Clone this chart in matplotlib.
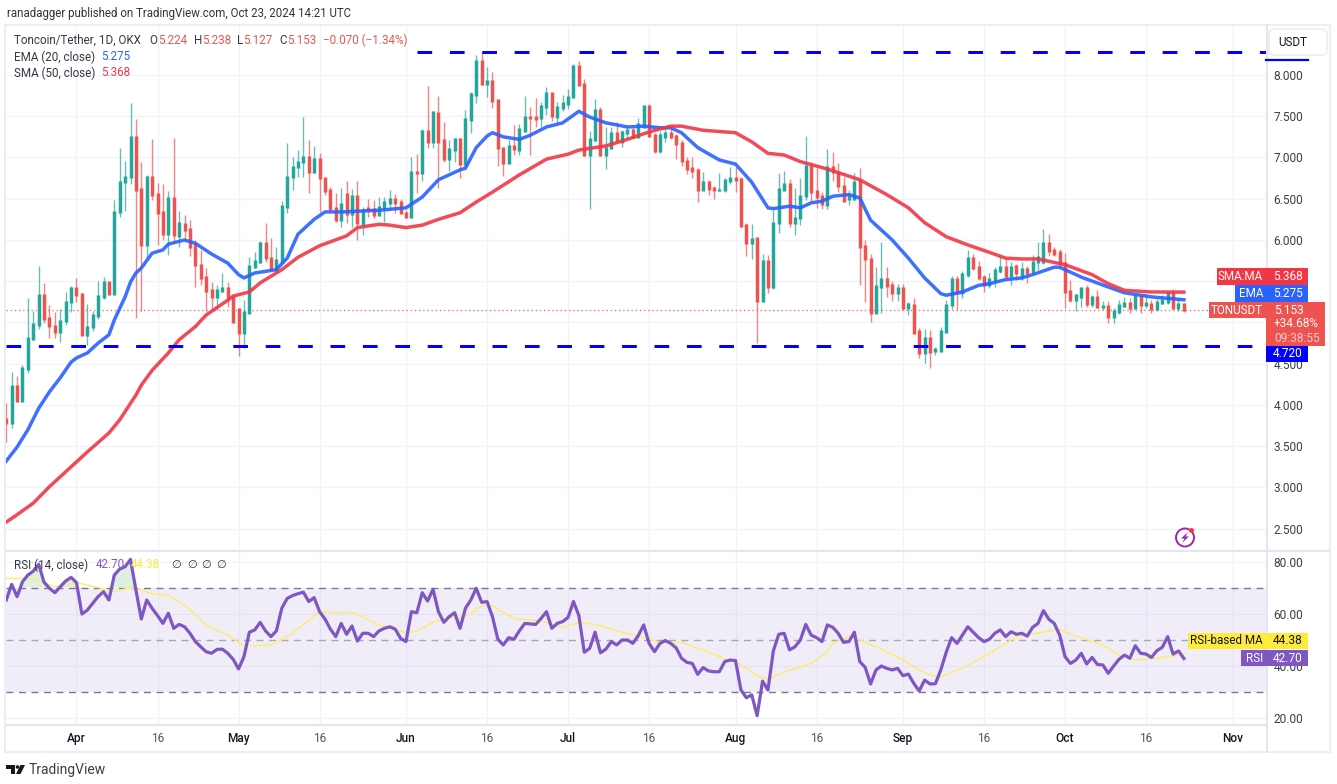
import matplotlib
matplotlib.use("Agg")
import matplotlib.pyplot as plt
from matplotlib.patches import Rectangle, FancyBboxPatch, Ellipse, Polygon
from matplotlib.lines import Line2D
import numpy as np

# days are counted from Apr 1 2024, first candle Mar 19, last Oct 23
days = np.arange(-13, 206)

opens = [3.83,3.78,4.23,4.05,4.44,4.80,4.97,5.33,5.05,4.96,
         4.88,5.02,5.25,5.42,5.34,4.85,4.95,5.08,5.31,5.49,
         5.34,6.34,6.70,6.76,7.25,6.62,5.94,6.76,6.56,6.34,
         6.07,6.51,6.05,6.19,6.13,5.94,5.70,5.55,5.39,5.31,
         5.38,5.42,5.31,5.16,4.87,5.12,5.67,5.73,5.96,5.78,
         5.63,5.73,6.40,6.76,6.89,6.95,7.01,6.82,6.98,6.75,
         6.61,6.39,6.24,6.56,6.31,6.53,6.19,6.39,6.38,6.30,
         6.39,6.45,6.50,6.46,6.33,6.28,6.83,6.81,7.32,7.19,
         7.54,7.21,6.98,7.09,7.22,6.92,7.45,7.76,8.17,7.89,
         7.93,7.70,7.12,6.93,7.14,7.09,7.32,7.49,7.49,7.48,
         7.61,7.78,7.49,7.60,7.65,7.73,8.11,7.89,7.03,7.21,
         7.58,7.03,7.12,7.30,7.19,7.30,7.33,7.25,7.37,7.62,
         7.27,7.08,7.25,7.30,7.26,7.18,6.96,6.87,6.85,6.61,
         6.70,6.63,6.60,6.60,6.72,6.75,6.74,6.18,5.96,6.02,
         5.26,5.75,5.43,6.21,6.61,6.68,6.21,6.27,6.53,6.90,
         6.59,6.53,6.42,6.88,6.83,6.66,6.50,6.50,6.72,5.93,
         5.77,5.12,5.43,5.53,5.45,5.36,5.42,5.18,5.21,4.90,
         4.63,4.81,4.65,4.66,4.88,5.21,5.53,5.36,5.58,5.78,
         5.67,5.55,5.45,5.52,5.62,5.67,5.56,5.68,5.56,5.65,
         5.61,5.73,5.73,5.96,5.88,5.85,5.72,5.38,5.27,5.31,
         5.42,5.22,5.31,5.19,5.20,5.07,5.13,5.20,5.24,5.18,
         5.32,5.21,5.23,5.16,5.24,5.25,5.36,5.17,5.224]
closes = [3.78,4.23,4.05,4.45,4.81,4.98,5.33,5.04,4.96,4.88,
          5.02,5.25,5.42,5.33,4.85,4.95,5.09,5.32,5.49,5.34,
          6.34,6.70,6.76,7.25,6.61,5.94,6.76,6.55,6.33,6.07,
          6.51,6.06,6.21,6.12,5.91,5.70,5.54,5.38,5.31,5.39,
          5.42,5.30,5.00,4.87,5.13,5.68,5.75,5.96,5.78,5.65,
          5.76,6.41,6.76,6.89,6.95,7.01,6.82,6.98,6.75,6.59,
          6.38,6.24,6.44,6.31,6.53,6.21,6.36,6.36,6.30,6.40,
          6.46,6.50,6.45,6.33,6.28,6.82,6.81,7.32,7.19,7.55,
          7.19,6.98,7.10,7.22,6.92,7.47,7.77,8.17,7.89,7.93,
          7.68,7.12,6.93,7.14,7.10,7.35,7.49,7.48,7.47,7.62,
          7.78,7.50,7.61,7.66,7.73,8.11,7.88,7.03,7.22,7.58,
          7.03,7.12,7.30,7.21,7.31,7.33,7.25,7.41,7.62,7.26,
          7.08,7.27,7.30,7.25,7.16,6.96,6.86,6.84,6.61,6.70,
          6.62,6.60,6.61,6.73,6.75,6.73,6.17,5.96,6.01,5.26,
          5.75,5.43,6.21,6.62,6.68,6.21,6.27,6.53,6.90,6.58,
          6.52,6.44,6.88,6.83,6.65,6.47,6.54,6.70,5.92,5.77,
          5.12,5.44,5.53,5.44,5.36,5.42,5.18,5.22,4.87,4.63,
          4.81,4.64,4.68,4.90,5.21,5.53,5.36,5.59,5.78,5.66,
          5.54,5.45,5.53,5.64,5.67,5.56,5.67,5.60,5.65,5.60,
          5.73,5.79,5.96,5.87,5.83,5.72,5.37,5.27,5.33,5.42,
          5.22,5.31,5.19,5.20,5.07,5.14,5.21,5.24,5.18,5.32,
          5.21,5.24,5.16,5.25,5.27,5.36,5.18,5.23,5.153]
highs = [4.02,4.40,4.35,4.48,5.30,5.14,5.68,5.48,5.21,5.13,
         5.16,5.37,5.44,5.54,5.36,5.22,5.14,5.50,5.55,5.49,
         6.48,7.12,6.96,7.66,7.47,6.95,6.79,7.22,6.69,6.68,
         6.59,7.24,6.35,6.30,6.24,6.00,5.88,5.66,5.49,5.45,
         5.60,5.49,5.33,5.17,5.27,5.79,5.85,5.99,6.21,6.02,
         5.92,6.47,7.18,7.00,7.09,7.49,7.21,7.14,7.05,6.75,
         6.64,6.57,6.63,6.72,6.62,6.72,6.40,6.50,6.48,6.52,
         6.52,6.61,6.56,6.50,6.36,7.01,7.04,7.35,7.87,7.56,
         7.75,7.43,7.21,7.24,7.24,7.58,7.79,8.24,8.28,8.10,
         8.04,7.71,7.13,7.21,7.39,7.41,7.75,7.61,7.72,7.67,
         7.85,7.78,7.67,7.76,7.83,8.13,8.17,7.95,7.32,7.71,
         7.61,7.37,7.37,7.43,7.33,7.38,7.38,7.48,7.64,7.65,
         7.30,7.32,7.36,7.36,7.28,7.21,7.00,7.01,6.87,6.82,
         6.73,6.65,6.81,6.75,6.89,6.88,6.76,6.20,6.19,6.04,
         5.83,5.82,6.36,6.81,6.84,6.74,6.63,6.75,7.26,6.95,
         6.87,6.58,7.10,7.07,6.93,6.76,6.60,6.81,6.87,6.00,
         5.83,5.67,5.98,5.67,5.50,5.47,5.47,5.25,5.30,4.93,
         4.92,4.91,4.70,4.95,5.27,5.56,5.56,5.62,5.88,5.83,
         5.75,5.57,5.60,5.67,5.81,5.78,5.73,5.71,5.73,5.68,
         5.82,5.98,6.13,6.07,5.91,5.89,5.84,5.52,5.35,5.43,
         5.45,5.33,5.39,5.26,5.26,5.17,5.27,5.31,5.30,5.35,
         5.34,5.35,5.27,5.28,5.33,5.38,5.41,5.30,5.238]
lows = [3.55,3.72,4.04,4.04,4.39,4.79,4.92,4.99,4.81,4.81,
        4.76,4.97,5.13,5.25,4.85,4.73,4.90,5.04,5.28,5.33,
        5.33,6.28,6.35,6.68,5.05,5.14,5.78,6.48,5.94,6.00,
        5.82,5.96,5.92,5.98,5.80,5.43,5.45,5.14,5.15,5.15,
        5.37,5.19,4.99,4.59,4.69,5.11,5.66,5.72,5.73,5.62,
        5.60,5.72,6.33,6.61,6.76,6.76,6.57,6.81,6.34,6.55,
        6.35,6.22,6.16,6.21,6.16,6.00,6.06,6.28,6.27,6.29,
        6.22,6.36,6.33,6.32,6.27,6.27,6.57,6.72,7.12,7.12,
        6.63,6.95,6.84,6.95,6.75,6.87,7.30,7.66,7.88,7.73,
        7.60,6.90,6.78,6.92,7.03,7.03,7.31,7.03,7.37,7.37,
        7.52,7.44,7.42,7.56,7.59,7.72,7.88,7.02,6.38,7.20,
        7.02,6.86,7.10,7.19,7.13,7.21,7.24,7.24,7.36,7.25,
        7.06,7.06,7.19,7.22,6.98,6.90,6.80,6.75,6.46,6.60,
        6.55,6.50,6.59,6.58,6.68,6.58,6.16,5.81,5.77,4.75,
        5.25,5.36,5.41,6.08,6.60,6.16,6.06,6.18,6.48,6.46,
        6.39,6.38,6.38,6.72,6.58,6.46,6.42,6.48,5.45,5.25,
        5.01,5.11,5.11,5.31,5.26,5.26,5.15,5.09,4.86,4.57,
        4.51,4.45,4.61,4.64,4.87,5.16,5.15,5.30,5.55,5.64,
        5.52,5.37,5.42,5.43,5.60,5.53,5.45,5.52,5.51,5.48,
        5.59,5.64,5.71,5.81,5.81,5.66,5.18,5.25,5.14,5.19,
        5.19,5.19,5.17,5.15,4.99,4.99,5.10,5.19,5.12,5.16,
        5.12,5.18,5.12,5.14,5.23,5.23,5.16,5.14,5.127]

# moving averages at their bends
ema_days = [-13,-11,-9,-7,-5,-3,-1,0,2,4,6,7,9,10,11,12,14,16,17,20,22,25,28,30,31,33,35,37,39,
            41,44,46,49,56,61,64,67,71,72,74,76,77,79,82,84,87,90,93,95,98,102,105,108,110,112,
            115,119,122,125,128,129,132,134,136,138,140,143,145,147,151,154,157,160,161,164,167,
            169,172,175,177,181,182,186,191,194,199,205]
ema_vals = [3.32,3.49,3.70,3.96,4.16,4.33,4.52,4.57,4.63,4.75,4.85,5.03,5.31,5.49,5.60,5.66,5.84,5.88,
            5.95,6.00,5.96,5.83,5.72,5.58,5.54,5.60,5.62,5.64,5.78,6.07,6.25,6.34,6.34,6.36,6.39,
            6.52,6.73,6.85,6.87,7.12,7.26,7.30,7.25,7.22,7.27,7.37,7.42,7.56,7.49,7.42,7.37,7.38,
            7.36,7.36,7.30,7.12,6.97,6.92,6.70,6.39,6.38,6.41,6.39,6.45,6.47,6.53,6.55,6.51,6.24,
            6.00,5.78,5.54,5.35,5.33,5.37,5.45,5.47,5.52,5.54,5.58,5.67,5.67,5.55,5.43,5.36,5.31,5.275]
sma_days = [-13,-11,-8,-5,-2,0,2,6,8,11,12,14,17,19,22,24,28,29,32,34,38,41,45,50,52,56,58,61,64,
            67,71,74,77,82,87,91,93,98,102,106,110,112,116,122,125,128,131,134,139,145,150,154,
            157,161,165,169,172,175,178,183,188,191,194,199,205]
sma_vals = [2.58,2.67,2.81,3.01,3.19,3.31,3.43,3.66,3.82,4.12,4.24,4.42,4.63,4.79,4.95,5.09,5.27,5.32,
            5.37,5.48,5.64,5.79,5.93,6.05,6.15,6.19,6.18,6.15,6.18,6.25,6.33,6.46,6.58,6.79,6.98,
            7.04,7.09,7.14,7.22,7.31,7.38,7.38,7.33,7.30,7.19,7.05,7.03,6.95,6.86,6.73,6.55,6.39,
            6.21,6.04,5.94,5.85,5.78,5.77,5.77,5.70,5.58,5.47,5.39,5.37,5.368]

rsi_vals = [65.2,71.2,66.5,72.2,74.8,76.3,78.9,72,69.7,68,70.3,72.5,73.9,71.9,59.8,61.3,63.9,66.5,68.4,65.2,
            74.8,77.1,78,80.8,69,57.9,65.2,62,59.2,56.2,60.1,54.3,55.8,54.9,52.4,49.2,47.2,45.3,44.7,46.2,
            46.3,44.7,42.4,38.7,43.4,52.8,53.7,56.6,53.3,51.1,53.3,62,65.8,66.9,67.6,68.2,64.6,66.1,60.7,57.9,
            54,51.1,56.2,52,55.2,49.4,52.4,52.4,51.1,53.3,54.3,54.9,54,50.4,49.2,60.7,60.3,68,64.8,69.3,
            60.7,56.6,58.8,60.3,54.3,62,65.2,69.7,64.3,64.6,58.8,50.1,47.9,50.7,50.1,53.4,56.2,56,55.8,58.1,
            60.7,54.3,56.2,56.9,58.5,64.6,59.2,45.1,46.6,52.8,44.9,46.3,49.2,47.9,49.8,49.8,48.5,51.5,55.6,48.5,
            45.3,48.5,49.6,48.5,46.8,42.8,41.2,40.8,36.6,39.2,37.9,37.6,37.6,41.5,42.1,41.9,30.6,27.6,28.7,20.7,
            34,30.6,45.6,52,52.4,46,47.2,49.8,55.8,51.7,50.7,49.2,55.6,54.7,52.4,48.9,49.2,52.8,41.5,39.3,
            32.9,38.3,39.8,38.9,38.3,38.9,36.1,36.7,33.1,30.2,34.4,32.9,33,38.3,45.1,50.7,48.5,51.7,54.9,52.8,
            50.7,49.2,50.1,52.4,53.7,51.1,53,52,52.4,51.3,54.7,56.2,61.1,57.8,56.2,51.7,43.4,40.8,42.1,44.7,
            40.6,43.1,40.4,40.2,37,39.8,42.4,44,42.8,47.6,44.7,44.4,43.1,45.7,47,51.1,44.4,45.6,42.7]
rsi_ma_days = [-13,-8,-4,0,4,7,10,14,17,20,24,28,31,36,40,45,48,51,56,61,63,66,69,71,73,75,77,81,86,90,
               93,96,101,106,108,112,117,120,122,126,128,131,136,139,140,143,145,149,153,156,158,160,
               164,168,174,177,182,185,190,193,196,200,205]
rsi_ma_vals = [73.5,73.5,70.3,71.9,70,68.4,70,67.8,66.9,63.3,55.6,51.7,47.6,47.9,52.4,60.7,60.3,60.5,55.6,
               52.6,53.3,56.6,58.4,58.4,60,62.9,62.9,58.1,57.1,54.7,56.5,55.8,52.8,50.2,48.8,48.9,45.3,
               42.5,41.5,36.1,34.8,37.4,40.8,45.3,48.5,51.1,49.8,46.3,42.1,38.3,36.3,35.7,38.9,43.4,51.1,
               52.1,53.9,51.3,47.9,44,42.1,42.8,44.38]

price_ticks = [8.0, 7.5, 7.0, 6.5, 6.0, 5.5, 5.0, 4.5, 4.0, 3.5, 3.0, 2.5]
price_labels = ["8.000", "7.500", "7.000", "6.500", "6.000", "", "", "4.500", "4.000", "3.500", "3.000", "2.500"]
rsi_ticks = [80, 60, 40, 20]
rsi_labels = ["80.00", "60.00", "40.00", "20.00"]
time_ticks = [0, 15, 30, 45, 61, 76, 91, 106, 122, 137, 153, 168, 183, 198, 214]
time_labels = ["Apr", "16", "May", "16", "Jun", "16", "Jul", "16", "Aug", "16", "Sep", "16", "Oct", "16", "Nov"]

resistance = 8.275
support = 4.72
last_close = 5.153

GREEN = "#26a69a"
RED = "#ef5350"
BLUE = "#2962ff"
MA_RED = "#f23645"
PURPLE = "#7e57c2"
YELLOW = "#ffeb3b"
GRID = "#f0f3fa"
TEXT = "#131722"
LINE_BLUE = "#0000ff"

W, H = 1337, 784
plt.rcParams['font.family'] = ['Roboto', 'DejaVu Sans']
plt.rcParams['font.size'] = 8.4
fig = plt.figure(figsize=(W / 100, H / 100), dpi=100, facecolor="white")


def pane(x0, y0, x1, y1):
    return fig.add_axes([x0 / W, 1 - y1 / H, (x1 - x0) / W, (y1 - y0) / H])


def box(x0, y0, x1, y1, color, z=5):
    fig.add_artist(Rectangle((x0 / W, 1 - y1 / H), (x1 - x0) / W, (y1 - y0) / H, transform=fig.transFigure,
                             fc=color, ec="none", zorder=z))


def label(x, y, s, color=TEXT, size=8.4, ha="left", weight="normal", z=6):
    fig.text(x / W, 1 - y / H, s, color=color, fontsize=size, ha=ha, va="center", weight=weight, zorder=z)


def hline(x0, x1, y, color, lw=1.5):
    fig.add_artist(Line2D([x0 / W, x1 / W], [1 - y / H, 1 - y / H], color=color, lw=lw, zorder=4))


def vline(x, y0, y1, color, lw=1.5):
    fig.add_artist(Line2D([x / W, x / W], [1 - y0 / H, 1 - y1 / H], color=color, lw=lw, zorder=4))


ax = pane(6, 25, 1266, 550)
ax_rsi = pane(6, 551, 1266, 725)

# price pane
ax.set_xlim(-13.05, 220.2)
ax.set_ylim(2.242, 8.606)
ax.set_yticks(price_ticks)
ax.set_yticklabels(price_labels, color="#3b3e48", fontsize=8.6)
ax.yaxis.tick_right()
ax.tick_params(axis="y", length=0, pad=5.5)
ax.set_xticks(time_ticks)
ax.tick_params(axis="x", length=0, labelbottom=False)
ax.grid(True, color=GRID, lw=1)
ax.set_axisbelow(True)
for s in ax.spines.values():
    s.set_visible(False)

colors = [GREEN if c >= o else RED for o, c in zip(opens, closes)]
ax.vlines(days, lows, highs, colors=colors, lw=1.0, alpha=0.7, zorder=2)
# tiny bodies still need to show up, so the bodies get a small minimum height
ax.vlines(days, np.minimum(opens, closes) - 0.012, np.maximum(opens, closes) + 0.012, colors=colors, lw=2.5, zorder=2.1)

ax.axhline(last_close, color=RED, lw=1, ls=(0, (1, 2)), alpha=0.8, zorder=1.5)
ax.plot(ema_days, ema_vals, color=BLUE, lw=2.5, alpha=0.9, solid_joinstyle="round", zorder=3)
ax.plot(sma_days, sma_vals, color=MA_RED, lw=2.5, alpha=0.9, solid_joinstyle="round", zorder=3.1)

dash = (0, (4.9, 5.9))
ax.plot([63, 220.2], [resistance, resistance], color=LINE_BLUE, lw=2.16, ls=dash, dash_capstyle="butt", zorder=3.2)
ax.plot([-13.05, 220.2], [support, support], color=LINE_BLUE, lw=2.16, ls=dash, dash_capstyle="butt", zorder=3.2)

# rsi pane
ax_rsi.set_xlim(-13.05, 220.2)
ax_rsi.set_ylim(17.12, 84.04)
ax_rsi.set_yticks(rsi_ticks)
ax_rsi.set_yticklabels(rsi_labels, color="#3b3e48", fontsize=8.6)
ax_rsi.yaxis.tick_right()
ax_rsi.tick_params(axis="y", length=0, pad=5.5)
ax_rsi.set_xticks(time_ticks)
ax_rsi.set_xticklabels(time_labels, fontsize=8.6)
ax_rsi.tick_params(axis="x", length=0, pad=5)
for t, s in zip(ax_rsi.get_xticklabels(), time_labels):
    if s == "16":
        t.set_color("#50535e")
    else:
        t.set_color(TEXT)
        t.set_fontweight("medium")
ax_rsi.grid(True, color=GRID, lw=1)
ax_rsi.set_axisbelow(True)
for s in ax_rsi.spines.values():
    s.set_visible(False)

ax_rsi.axhspan(30, 70, color=PURPLE, alpha=0.1, lw=0, zorder=1)
for level, al in [(70, 1.0), (50, 0.6), (30, 1.0)]:
    ax_rsi.axhline(level, color="#787b86", lw=1, ls=(0, (5, 4)), alpha=al, zorder=1.5)
rsi_arr = np.array(rsi_vals)
ax_rsi.fill_between(days, 70, rsi_arr, where=rsi_arr > 70, interpolate=True, color="#4caf50", alpha=0.18, lw=0, zorder=1.6)
ax_rsi.plot(rsi_ma_days, rsi_ma_vals, color="#fdeb73", lw=1.1, zorder=2)
ax_rsi.plot(days, rsi_vals, color=PURPLE, lw=2.3, solid_joinstyle="round", zorder=3)

# frame and pane dividers
hline(5, 1330, 25, "#eceef5")
hline(5, 1330, 550.5, "#e4e6ef")
hline(5, 1266, 725, "#e4e6ef")
hline(5, 1330, 752, "#eceef5")
vline(5, 25, 752, "#eceef5")
vline(1266.5, 25, 752, "#e4e6ef")
vline(1330, 25, 752, "#eceef5")

# header and legends
label(7, 13, "ranadagger published on TradingView.com, Oct 23, 2024 14:21 UTC", color="#333333", size=8.3)
label(14, 40, "Toncoin/Tether, 1D, OKX", color="#333a45")
for x, s, col in [(149, "O", "#333a45"), (158, "5.224", RED), (194, "H", "#333a45"), (202, "5.238", RED),
                  (237, "L", "#333a45"), (243, "5.127", RED), (279, "C", "#333a45"), (287, "5.153", RED),
                  (323, "\u22120.070 (\u22121.34%)", RED)]:
    label(x, 40, s, color=col)
label(14, 57, "EMA (20, close)", color="#333a45")
label(101, 57, "5.275", color=BLUE)
label(14, 73, "SMA (50, close)", color="#333a45")
label(101, 73, "5.368", color=MA_RED)
label(14, 565, "RSI (14, close)", color="#333a45")
label(96, 565, "42.70", color=PURPLE)
label(131, 565, "44.38", color=YELLOW)
for x in [171, 187, 201, 216]:
    label(x, 565, "\u2205", color="#333a45", size=8)

# price axis tags
box(1217, 268, 1266, 285, MA_RED)
label(1263, 276.5, "SMA:MA", color="white", ha="right")
box(1266, 268, 1308, 285, MA_RED)
label(1288, 276.5, "5.368", color="white", ha="center", size=8.6)
box(1235, 285, 1266, 302, BLUE)
label(1263, 293.5, "EMA", color="white", ha="right")
box(1266, 285, 1308, 302, BLUE)
label(1288, 293.5, "5.275", color="white", ha="center", size=8.6)
box(1209, 302, 1266, 318, RED)
label(1263, 310, "TONUSDT", color="white", ha="right")
box(1266, 302, 1325, 346, RED)
label(1274, 310, "5.153", color="white", size=8.6)
label(1274, 324, "+34.68%", color="white", size=8.6)
label(1274, 338, "09:38:55", color="#f9c9c8", size=8.6)
box(1266, 346, 1308, 362, LINE_BLUE)
label(1288, 354, "4.720", color="white", ha="center", size=8.6)

box(1188, 633, 1266, 649, YELLOW)
label(1263, 641, "RSI-based MA", color=TEXT, ha="right")
box(1266, 633, 1308, 649, YELLOW)
label(1288, 641, "44.38", color=TEXT, ha="center", size=8.6)
box(1241, 650, 1266, 666, PURPLE)
label(1263, 658, "RSI", color="white", ha="right")
box(1266, 650, 1308, 666, PURPLE)
label(1288, 658, "42.70", color="white", ha="center", size=8.6)

# currency button with the resistance tick underneath
fig.add_artist(FancyBboxPatch((1269 / W, 1 - 55 / H), 58 / W, 26 / H, boxstyle="round,pad=0,rounding_size=0.004",
                              transform=fig.transFigure, fc="white", ec="#eceef5", lw=1.3, zorder=5,
                              mutation_aspect=W / H))
label(1278, 42.5, "USDT", color=TEXT)
hline(1266, 1308, 59.5, LINE_BLUE, lw=1.6)

# lightning badge
fig.add_artist(Ellipse((1185 / W, 1 - 537.5 / H), 18 / W, 18 / H, transform=fig.transFigure, fc="none",
                       ec="#9c27b0", lw=1.4, zorder=6))
bolt = [(1188, 532), (1181, 538.5), (1184.5, 538.5), (1182, 543), (1189, 536.5), (1185.5, 536.5)]
fig.add_artist(Polygon([(x / W, 1 - y / H) for x, y in bolt], transform=fig.transFigure, fc="#9c27b0", ec="none", zorder=6))
fig.add_artist(Ellipse((1191.5 / W, 1 - 530.5 / H), 5 / W, 5 / H, transform=fig.transFigure, fc=MA_RED, ec="none", zorder=7))

# TradingView mark
logo_bar = [(6, 765), (15, 765), (15, 774), (10.5, 774), (10.5, 768.5), (6, 768.5)]
logo_slash = [(20.5, 765), (25, 765), (20.5, 774), (16, 774)]
fig.add_artist(Polygon([(x / W, 1 - y / H) for x, y in logo_bar], transform=fig.transFigure, fc=TEXT, ec="none"))
fig.add_artist(Polygon([(x / W, 1 - y / H) for x, y in logo_slash], transform=fig.transFigure, fc=TEXT, ec="none"))
fig.add_artist(Ellipse((17.5 / W, 1 - 767 / H), 3.6 / W, 3.6 / H, transform=fig.transFigure, fc=TEXT, ec="none"))
label(29, 770, "TradingView", color="#3b3e48", size=10)

fig.savefig("out.png", dpi=100, facecolor="white")
